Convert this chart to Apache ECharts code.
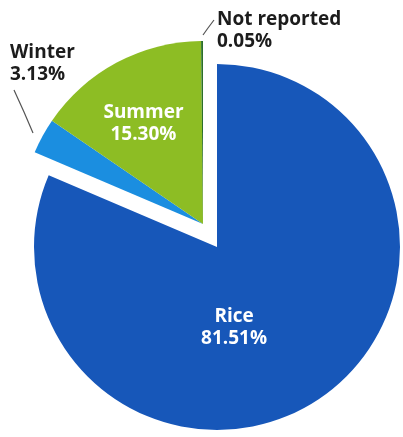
<!DOCTYPE html>
<html>
<head>
<meta charset="utf-8">
<script src="https://cdn.jsdelivr.net/npm/echarts@6/dist/echarts.min.js"></script>
<style>
  html, body { margin: 0; padding: 0; background: #ffffff; }
  #chart { width: 403px; height: 437px; }
</style>
</head>
<body>
<div id="chart"></div>
<script>
// Share of cropped area by season
const categories = ['Rice', 'Winter', 'Summer', 'Not reported'];
const shares = [81.51, 3.13, 15.30, 0.05];
const colors = ['#1757b9', '#1b8ee0', '#8dbd24', '#2b6f2a'];

// Slices pulled out of the main pie as one group
const pulledOut = ['Winter', 'Summer', 'Not reported'];

const FONT = '"Open Sans", "Noto Sans", sans-serif';
const RADIUS = 183;
const MIN_ANGLE = 0.6;

function pctText(v) { return v.toFixed(2) + '%'; }

function labelFor(name, value, inGroup) {
  const text = name + '\n' + pctText(value);
  if (!inGroup) return { show: false };
  if (name === 'Rice' || name === 'Summer') {
    return {
      show: true,
      position: 'inside',
      formatter: text,
      color: '#ffffff',
      fontFamily: FONT,
      fontWeight: 'bold',
      fontSize: 19,
      lineHeight: 22,
      align: 'center',
      offset: name === 'Rice' ? [-35, 2] : [-15, -17]
    };
  }
  return {
    show: true,
    position: 'outside',
    formatter: text,
    color: '#1c1c1c',
    fontFamily: FONT,
    fontWeight: 'bold',
    fontSize: 19,
    lineHeight: 22,
    align: 'left'
  };
}

function buildData(group) {
  return categories.map((name, i) => {
    const inGroup = group === 'main' ? !pulledOut.includes(name) : pulledOut.includes(name);
    return {
      name: name,
      value: shares[i],
      itemStyle: { color: inGroup ? colors[i] : 'rgba(0,0,0,0)' },
      label: labelFor(name, shares[i], inGroup),
      labelLine: {
        show: inGroup && (name === 'Winter' || name === 'Not reported'),
        lineStyle: { color: '#555555', width: 1.2 },
        length: 10,
        length2: 0
      }
    };
  });
}

// Text boxes of the outer labels and the leader lines pointing at their slices
const outerLabels = {
  'Winter': { x: 10, y: 42, line: [[33, 133], [24, 112], [14, 90]] },
  'Not reported': { x: 217, y: 9, line: [[203, 35], [208, 28], [214, 20]] }
};

const chart = echarts.init(document.getElementById('chart'), null, { renderer: 'canvas' });

chart.setOption({
  backgroundColor: '#ffffff',
  animation: false,
  series: [
    {
      type: 'pie',
      center: [217, 247],
      radius: [0, RADIUS],
      startAngle: 90,
      clockwise: true,
      minAngle: MIN_ANGLE,
      silent: true,
      avoidLabelOverlap: false,
      itemStyle: { borderWidth: 0 },
      data: buildData('main')
    },
    {
      type: 'pie',
      center: [203, 224],
      radius: [0, RADIUS],
      startAngle: 90,
      clockwise: true,
      minAngle: MIN_ANGLE,
      silent: true,
      avoidLabelOverlap: false,
      itemStyle: { borderWidth: 0 },
      data: buildData('group'),
      labelLayout: function (params) {
        const cfg = outerLabels[categories[params.dataIndex]];
        if (!cfg) return {};
        return {
          x: cfg.x, y: cfg.y, align: 'left', verticalAlign: 'top',
          labelLinePoints: cfg.line
        };
      }
    }
  ]
});
</script>
</body>
</html>
